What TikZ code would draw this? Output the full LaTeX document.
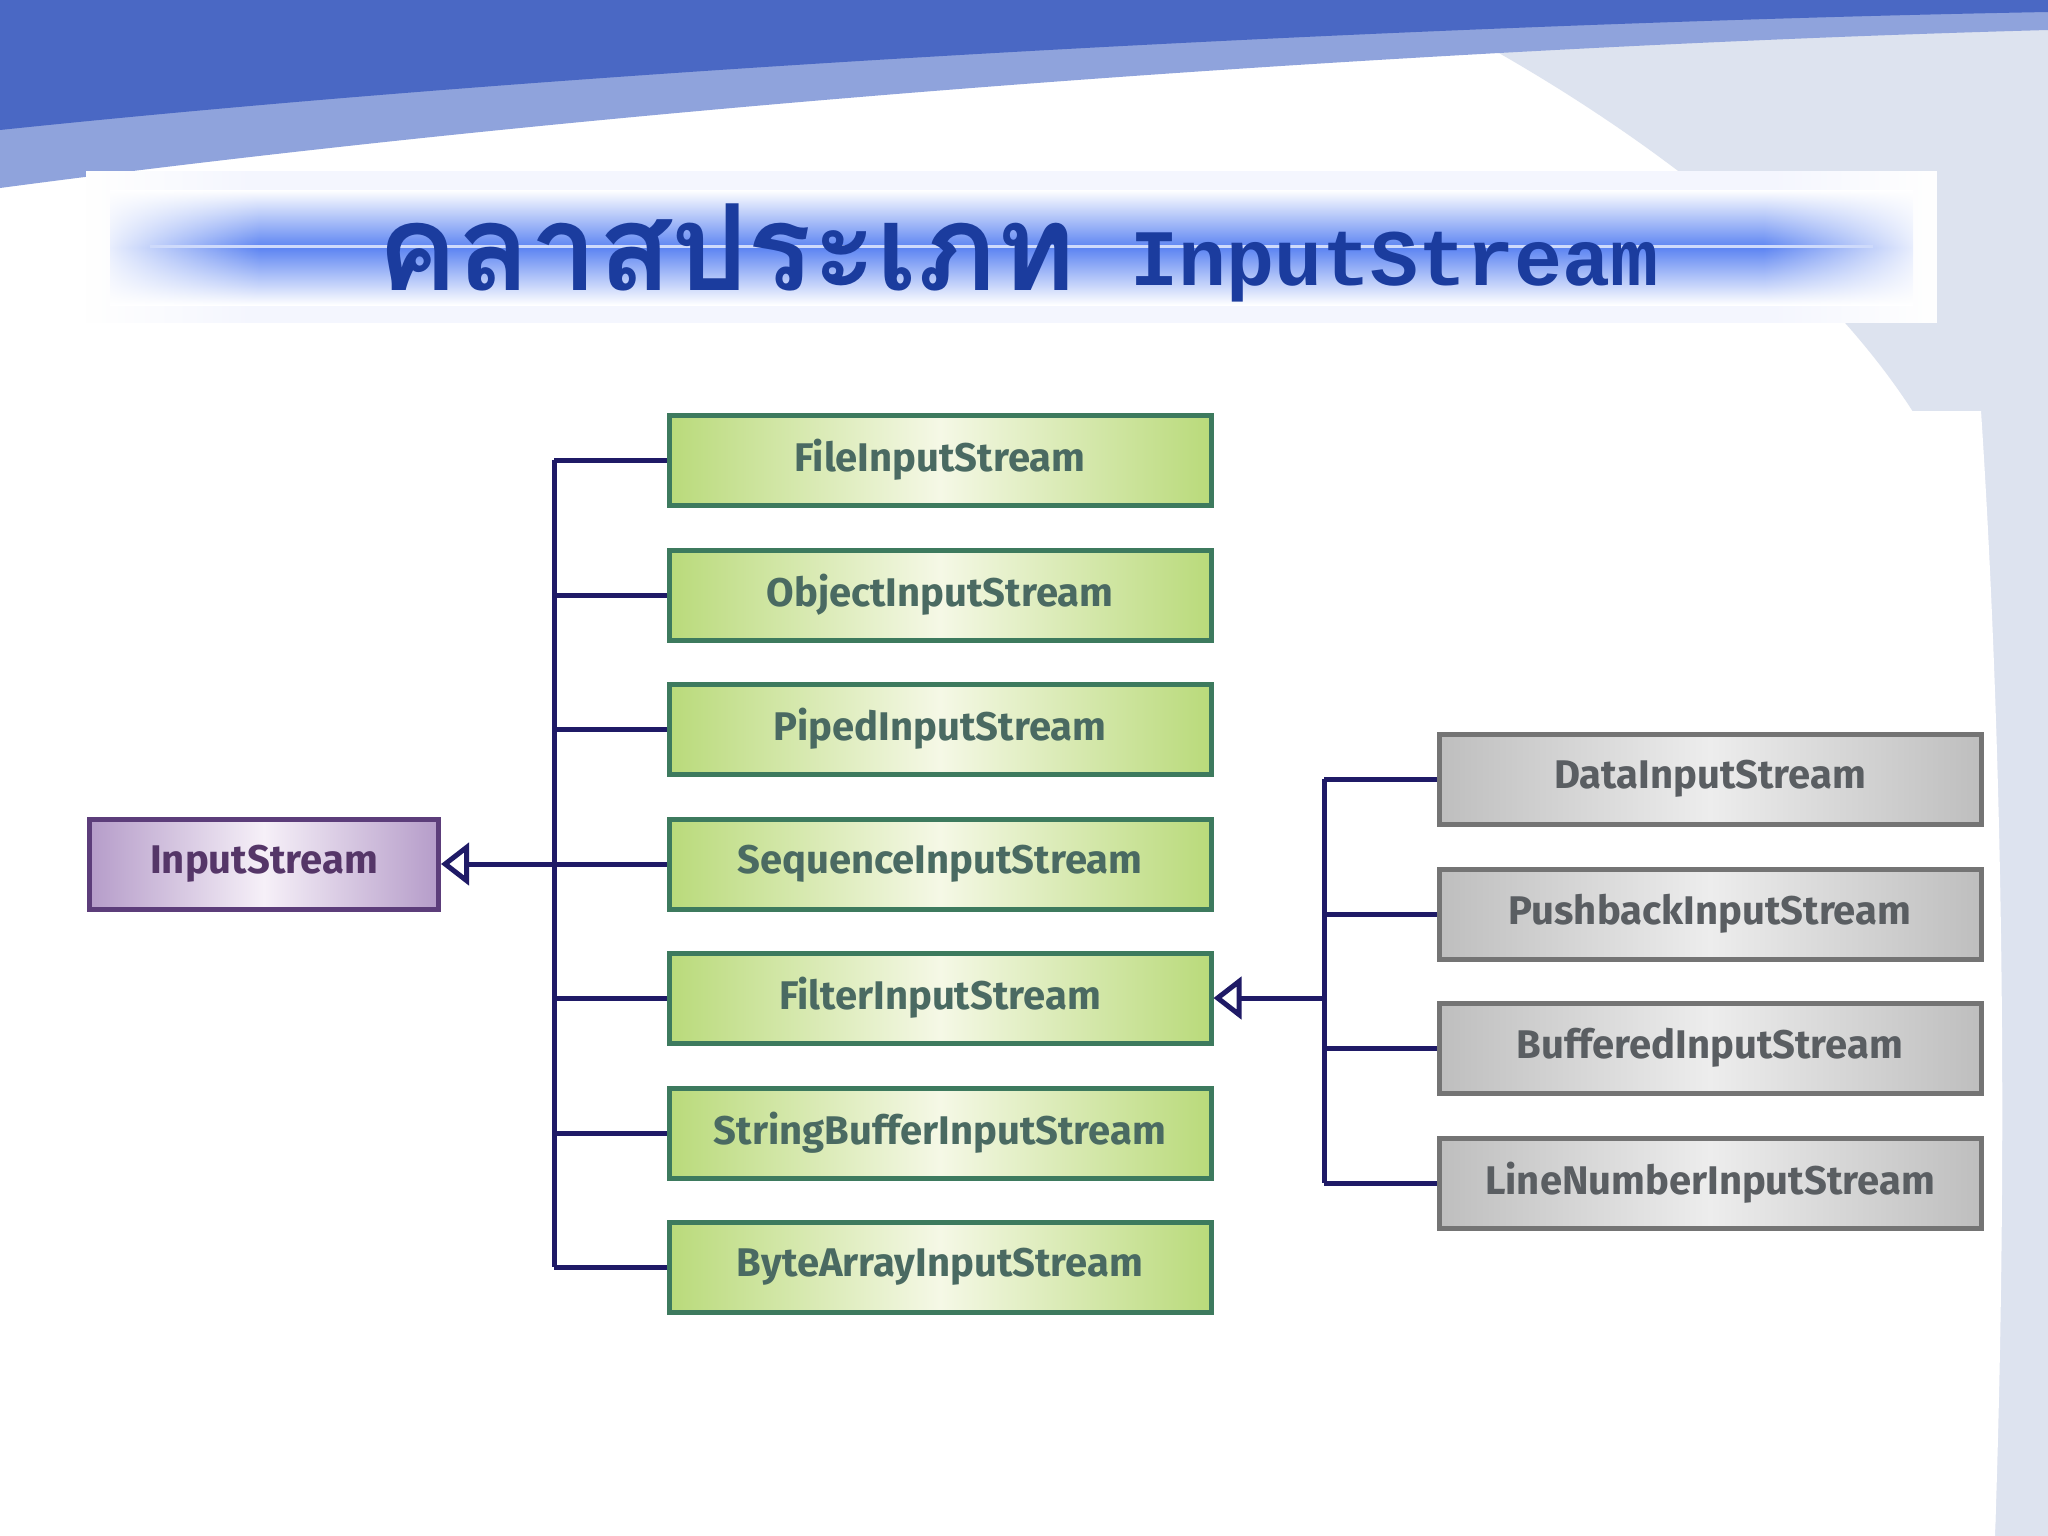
\documentclass[tikz,border=0pt]{standalone}
\usepackage{fontspec}
\setmainfont{Fira Sans}
\newfontfamily\thaifont[Script=Thai]{Loma}
\newfontfamily\codefont{Liberation Mono}
\usetikzlibrary{arrows.meta,fadings}

\definecolor{banddark}{HTML}{4A68C4}
\definecolor{bandlight}{HTML}{8FA3DC}
\definecolor{skyside}{HTML}{DDE3EF}
\definecolor{bannerblue}{HTML}{5C84F2}
\definecolor{titleblue}{HTML}{1B3C9E}
\definecolor{linkblue}{HTML}{1F1A66}
\definecolor{greenedge}{HTML}{3D7A5E}
\definecolor{greenside}{HTML}{B9DA7A}
\definecolor{greenmid}{HTML}{F5F8E6}
\definecolor{greentext}{HTML}{4A6A62}
\definecolor{violetedge}{HTML}{5C3D7A}
\definecolor{violetside}{HTML}{B59CC9}
\definecolor{violetmid}{HTML}{F6F0F8}
\definecolor{violettext}{HTML}{553668}
\definecolor{greyedge}{HTML}{747474}
\definecolor{greyside}{HTML}{BEBEBE}
\definecolor{greymid}{HTML}{EDEDED}
\definecolor{greytext}{HTML}{5A5E62}

\tikzset{
  basebox/.style={draw=violetedge,left color=violetside,right color=violetside,middle color=violetmid,
    minimum width=349pt,minimum height=90pt,inner sep=0pt,text=violettext,font=\fontsize{40}{46}\selectfont\bfseries},
  subbox/.style={draw=greenedge,left color=greenside,right color=greenside,middle color=greenmid,
    minimum width=542pt,minimum height=90pt,inner sep=0pt,text=greentext,font=\fontsize{40}{46}\selectfont\bfseries},
  filterbox/.style={draw=greyedge,left color=greyside,right color=greyside,middle color=greymid,
    minimum width=542pt,minimum height=90pt,inner sep=0pt,text=greytext,font=\fontsize{40}{46}\selectfont\bfseries},
  linkline/.style={draw=linkblue,line width=5pt},
  inherit/.style={linkline,-{Triangle[open,length=28pt,width=42pt]}}
}

\begin{document}
\begin{tikzpicture}[x=1pt,y=-1pt,line width=5pt]
\path[use as bounding box] (0,0) rectangle (2048,1536);
% background of the slide
\fill[white] (0,0) rectangle (2048,1536);
\fill[skyside] (1400,0) -- (2048,0) -- (2048,1536) -- (1995,1536) .. controls (2005,1000) and (1995,620) .. (1930,440) .. controls (1840,280) and (1640,120) .. (1400,0) -- cycle;
\fill[bandlight] (0,0) -- (2048,0) -- (2048,30) .. controls (1500,45) and (700,95) .. (0,188) -- cycle;
\fill[banddark] (0,0) -- (2048,0) -- (2048,12) .. controls (1500,22) and (650,62) .. (0,130) -- cycle;
\fill[white] (0,411) rectangle (1981,1315);
\fill[white] (1981,411) .. controls (2000,700) and (2010,1100) .. (1995,1536) -- (0,1536) -- (0,1315) -- (1981,1315) -- cycle;
% title banner
\fill[white!93!bannerblue] (86,171) rectangle (1937,323);
\shade[top color=white,bottom color=white,middle color=bannerblue] (110,190) rectangle (1913,305);
\fill[white,path fading=east] (86,171) rectangle (260,323);
\fill[white,path fading=west] (1763,171) rectangle (1937,323);
\draw[white!70!bannerblue,line width=3pt] (150,246) -- (1873,246);
\node[anchor=base west,inner sep=0pt,text=titleblue,font=\fontsize{120}{130}\selectfont\thaifont\bfseries] (titleTh) at (375,290) {คลาสประเภท};
\node[anchor=base west,inner sep=0pt,text=titleblue,font=\fontsize{80}{90}\selectfont\codefont\bfseries] (titleEn) at (1128,285) {InputStream};
% class boxes
\node[basebox] (base) at (264,864) {InputStream};
\node[subbox] (fileIS) at (940,460) {FileInputStream};
\node[subbox] (objectIS) at (940,595) {ObjectInputStream};
\node[subbox] (pipedIS) at (940,729) {PipedInputStream};
\node[subbox] (sequenceIS) at (940,864) {SequenceInputStream};
\node[subbox] (filterIS) at (940,998) {FilterInputStream};
\node[subbox] (stringBufferIS) at (940,1133) {StringBufferInputStream};
\node[subbox] (byteArrayIS) at (940,1267) {ByteArrayInputStream};
\node[filterbox] (dataIS) at (1710,779) {DataInputStream};
\node[filterbox] (pushbackIS) at (1710,914) {PushbackInputStream};
\node[filterbox] (bufferedIS) at (1710,1048) {BufferedInputStream};
\node[filterbox] (lineNumberIS) at (1710,1183) {LineNumberInputStream};
% joints
\coordinate (jL) at (554,864);
\coordinate (jR) at (1324,998);
% links
\draw[linkline] (jL |- fileIS.west) -- (jL |- byteArrayIS.west);
\draw[linkline] (jL |- fileIS.west) -- (fileIS.west);
\draw[linkline] (jL |- objectIS.west) -- (objectIS.west);
\draw[linkline] (jL |- pipedIS.west) -- (pipedIS.west);
\draw[linkline] (jL |- sequenceIS.west) -- (sequenceIS.west);
\draw[linkline] (jL |- filterIS.west) -- (filterIS.west);
\draw[linkline] (jL |- stringBufferIS.west) -- (stringBufferIS.west);
\draw[linkline] (jL |- byteArrayIS.west) -- (byteArrayIS.west);
\draw[inherit] (jL) -- (base.east);
\draw[linkline] (jR |- dataIS.west) -- (jR |- lineNumberIS.west);
\draw[linkline] (jR |- dataIS.west) -- (dataIS.west);
\draw[linkline] (jR |- pushbackIS.west) -- (pushbackIS.west);
\draw[linkline] (jR |- bufferedIS.west) -- (bufferedIS.west);
\draw[linkline] (jR |- lineNumberIS.west) -- (lineNumberIS.west);
\draw[inherit] (jR) -- (filterIS.east);
\end{tikzpicture}
\end{document}
